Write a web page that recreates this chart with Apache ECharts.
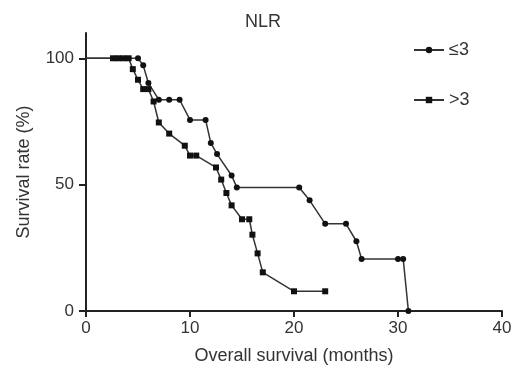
<!DOCTYPE html>
<html>
<head>
<meta charset="utf-8">
<script src="https://cdn.jsdelivr.net/npm/echarts@6/dist/echarts.min.js"></script>
<style>html,body{margin:0;padding:0;background:#fff;}#c{width:517px;height:370px;}</style>
</head>
<body>
<div id="c"></div>
<script>
const lowName = '≤3';
const highName = '>3';
const lowTime = [0, 5.0, 5.5, 6.0, 7.0, 8.0, 9.0, 10.0, 11.5, 12.0, 12.6, 14.0, 14.5, 20.5, 21.5, 23.0, 25.0, 26.0, 26.5, 30.0, 30.5, 31.0];
const lowSurv = [100, 100, 97.2, 90.2, 83.6, 83.6, 83.6, 75.6, 75.6, 66.5, 62.1, 53.6, 48.9, 48.9, 43.8, 34.5, 34.5, 27.6, 20.6, 20.6, 20.6, 0];
const highTime = [0, 2.6, 3.1, 3.6, 4.1, 4.5, 5.0, 5.5, 6.0, 6.5, 7.0, 8.0, 9.5, 10.0, 10.6, 12.5, 13.0, 13.5, 14.0, 15.0, 15.7, 16.0, 16.5, 17.0, 20.0, 23.0];
const highSurv = [100, 100, 100, 100, 100, 95.7, 91.5, 87.8, 87.8, 82.9, 74.6, 70.2, 65.4, 61.5, 61.5, 56.8, 52.0, 46.7, 41.8, 36.3, 36.3, 30.2, 22.8, 15.3, 7.8, 7.8];
const xTicks = [0, 10, 20, 30, 40];
const yTicks = [0, 50, 100];

function build(t, s) {
  return t.map((v, i) => i === 0 ? { value: [v, s[i]], symbol: 'none' } : [v, s[i]]);
}

const chart = echarts.init(document.getElementById('c'), null, { renderer: 'canvas' });
const txt = '#333';
const font = 'Liberation Sans, Arial, sans-serif';
chart.setOption({
  animation: false,
  backgroundColor: '#fff',
  title: {
    text: 'NLR', left: 240, top: 8,
    textStyle: { fontSize: 18, fontWeight: 'normal', color: txt, fontFamily: font }
  },
  legend: {
    orient: 'vertical', left: 408, top: 36,
    itemWidth: 30, itemHeight: 8, itemGap: 32,
    textStyle: { fontSize: 18, color: txt, fontFamily: font },
    data: [lowName, highName]
  },
  grid: { left: 86, right: 15, top: 33, bottom: 58, containLabel: false },
  xAxis: {
    type: 'value', min: 0, max: 40, interval: 10,
    name: 'Overall survival (months)', nameLocation: 'middle', nameGap: 36,
    nameTextStyle: { fontSize: 18, color: txt, fontFamily: font },
    axisLine: { lineStyle: { color: '#222', width: 2 } },
    axisTick: { length: 6, lineStyle: { color: '#222', width: 2 }, customValues: xTicks },
    axisLabel: { fontSize: 17, color: txt, fontFamily: font, margin: 9, customValues: xTicks },
    splitLine: { show: false }
  },
  yAxis: {
    type: 'value', min: 0, max: 110, interval: 50,
    name: 'Survival rate (%)', nameLocation: 'middle', nameGap: 53, nameRotate: 90,
    nameTextStyle: { fontSize: 18, color: txt, fontFamily: font },
    axisLine: { show: true, lineStyle: { color: '#222', width: 2 } },
    axisTick: { show: true, length: 7, lineStyle: { color: '#222', width: 2 }, customValues: yTicks },
    axisLabel: { fontSize: 17, color: txt, fontFamily: font, margin: 12, customValues: yTicks },
    splitLine: { show: false }
  },
  series: [
    {
      name: lowName, type: 'line', data: build(lowTime, lowSurv),
      symbol: 'circle', symbolSize: 6, showAllSymbol: true,
      lineStyle: { color: '#333', width: 1.5 },
      itemStyle: { color: '#111' }
    },
    {
      name: highName, type: 'line', data: build(highTime, highSurv),
      symbol: 'rect', symbolSize: 6, showAllSymbol: true,
      lineStyle: { color: '#333', width: 1.5 },
      itemStyle: { color: '#111' }
    }
  ]
});
</script>
</body>
</html>
